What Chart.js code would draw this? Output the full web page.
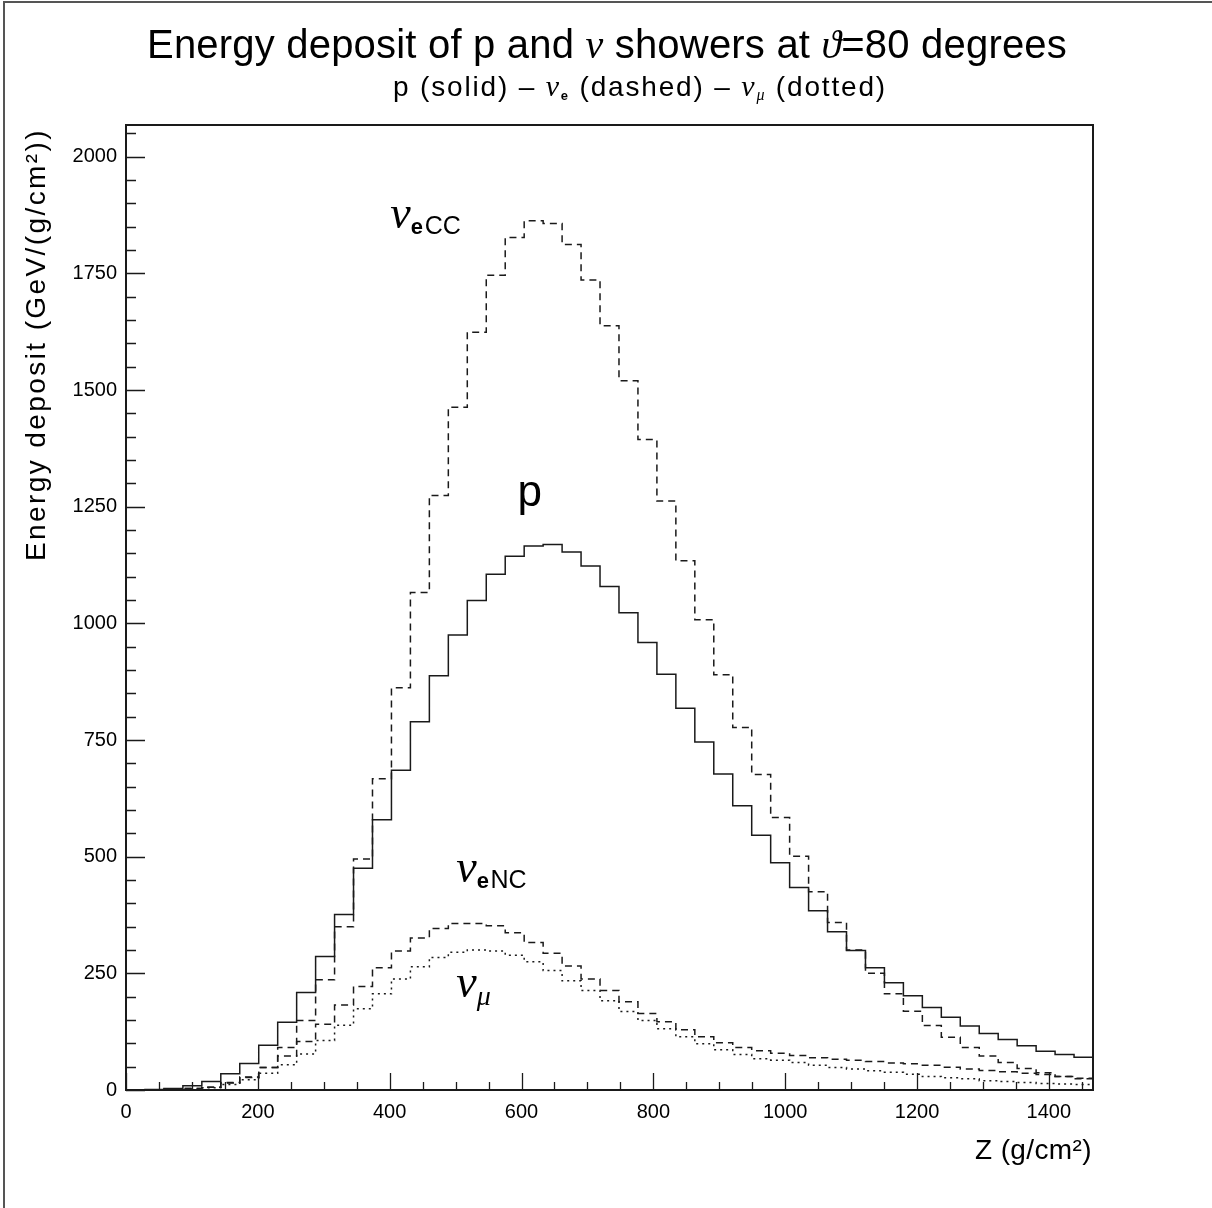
<!DOCTYPE html>
<html>
<head>
<meta charset="utf-8">
<script src="https://cdn.jsdelivr.net/npm/chart.js@4.4.1/dist/chart.umd.min.js"></script>
<style>
  html, body { margin: 0; padding: 0; background: #fff; }
  #c { display: block; }
</style>
</head>
<body>
<canvas id="c" width="1212" height="1208"></canvas>
<script>
// histogram binning along Z (g/cm2)
const nBins = 51;
const zMax = 1467;
const yMax = 2068;

// energy deposit per bin, GeV/(g/cm2)
const protonSolid = [0, 1, 3, 9, 18, 35, 57, 96, 145, 209, 286, 376, 475, 579, 685, 789, 888, 975, 1049, 1105,
  1144, 1166, 1169, 1153, 1123, 1079, 1023, 959, 891, 818, 746, 677, 609, 546, 487, 434, 384, 339, 299, 262,
  230, 202, 177, 156, 137, 121, 108, 95, 83, 76, 70];
const nueCC = [0, 0, 1, 3, 6, 16, 28, 48, 91, 149, 236, 350, 495, 667, 862, 1066, 1274, 1463, 1624, 1746,
  1827, 1863, 1857, 1812, 1736, 1638, 1520, 1394, 1262, 1134, 1008, 890, 777, 676, 584, 501, 425, 359, 300, 250,
  206, 169, 138, 113, 91, 73, 59, 46, 37, 29, 24];
const nueNC = [0, 0, 1, 3, 6, 15, 27, 48, 73, 104, 141, 182, 222, 262, 298, 326, 346, 357, 357, 352,
  337, 316, 293, 266, 238, 213, 189, 164, 146, 129, 114, 101, 91, 84, 79, 74, 69, 66, 64, 61,
  58, 56, 53, 49, 45, 42, 39, 36, 33, 29, 25];
const numu = [0, 0, 1, 2, 5, 12, 22, 36, 54, 77, 106, 139, 174, 206, 238, 264, 284, 295, 300, 298,
  289, 275, 256, 234, 213, 191, 168, 149, 131, 114, 99, 86, 76, 67, 64, 59, 53, 48, 45, 41,
  38, 34, 29, 26, 24, 20, 18, 16, 14, 13, 12];

// curve labels, anchored in data coordinates (Z, energy deposit)
const curveLabels = [
  { name: 'nueCC', x: 401, y: 1847 },
  { name: 'p',     x: 594, y: 1251 },
  { name: 'nueNC', x: 501, y: 446 },
  { name: 'numu',  x: 501, y: 199 }
];

const SANS = "'Liberation Sans', Arial, sans-serif";
const SERIF_IT = "italic 46px 'Liberation Serif', 'DejaVu Serif', serif";
Chart.defaults.font.family = SANS;
Chart.defaults.color = '#000';

const binWidth = zMax / nBins;

// turn bin contents into step points (left edge of every bin + last upper edge)
function histPoints(vals) {
  const pts = vals.map((v, i) => ({ x: i * binWidth, y: v }));
  pts.push({ x: nBins * binWidth, y: vals[vals.length - 1] });
  return pts;
}

function histSet(label, vals, dash) {
  return {
    label: label,
    data: histPoints(vals),
    stepped: true,
    borderColor: '#1a1a1a',
    borderWidth: 1.5,
    borderDash: dash,
    pointRadius: 0,
    fill: false
  };
}

// draw a run of text pieces with different fonts, optionally stretched to a target width
function drawRich(ctx, parts, x, y, align, targetW) {
  let base = 0, chars = 0;
  parts.forEach(p => {
    ctx.font = p.font;
    p.w = ctx.measureText(p.t).width;
    base += p.w;
    chars += p.t.length;
  });
  let sp = 0;
  if (targetW) sp = (targetW - base) / chars;
  const total = base + sp * chars;
  let cx = align === 'center' ? x - total / 2 : (align === 'right' ? x - total : x);
  ctx.textAlign = 'left';
  parts.forEach(p => {
    ctx.font = p.font;
    for (const ch of p.t) {
      ctx.fillText(ch, cx, y + (p.dy || 0));
      cx += ctx.measureText(ch).width + sp;
    }
  });
}

const decor = {
  id: 'decor',
  afterDraw(chart) {
    const { ctx, chartArea: a, scales: { x, y } } = chart;
    ctx.save();

    // outer pad border
    ctx.strokeStyle = '#555';
    ctx.lineWidth = 2;
    ctx.beginPath();
    ctx.moveTo(4, 1208);
    ctx.lineTo(4, 2);
    ctx.lineTo(1212, 2);
    ctx.stroke();

    // frame
    ctx.strokeStyle = '#1a1a1a';
    ctx.lineWidth = 2;
    ctx.strokeRect(a.left, a.top, a.right - a.left, a.bottom - a.top);

    // ticks pointing inside
    ctx.lineWidth = 1.3;
    ctx.beginPath();
    for (let v = 0; v <= zMax; v += 50) {
      const px = Math.round(x.getPixelForValue(v)) + 0.5;
      const len = v % 200 === 0 ? 17 : 8;
      ctx.moveTo(px, a.bottom);
      ctx.lineTo(px, a.bottom - len);
    }
    for (let v = 0; v <= yMax; v += 50) {
      const py = Math.round(y.getPixelForValue(v)) + 0.5;
      const len = v % 250 === 0 ? 19 : 10;
      ctx.moveTo(a.left, py);
      ctx.lineTo(a.left + len, py);
    }
    ctx.stroke();

    ctx.fillStyle = '#000';
    ctx.textBaseline = 'alphabetic';

    // title and subtitle
    const tf = '40px ' + SANS;
    const tg = "italic 40px 'Liberation Serif', serif";
    drawRich(ctx, [
      { t: 'Energy deposit of p and ', font: tf },
      { t: 'ν', font: tg },
      { t: ' showers at ', font: tf },
      { t: 'ϑ', font: tg },
      { t: '=80 degrees', font: tf }
    ], 607, 58, 'center', 920);

    const sf = '28px ' + SANS;
    const sg = "italic 30px 'Liberation Serif', serif";
    const ss = 'bold 13px ' + SANS;
    const sm = "italic 16px 'Liberation Serif', serif";
    drawRich(ctx, [
      { t: 'p (solid) – ', font: sf },
      { t: 'ν', font: sg },
      { t: 'e', font: ss, dy: 4 },
      { t: ' (dashed) – ', font: sf },
      { t: 'ν', font: sg },
      { t: 'μ', font: sm, dy: 4 },
      { t: ' (dotted)', font: sf }
    ], 640, 96, 'center', 494);

    // axis titles
    drawRich(ctx, [
      { t: 'Z (g/cm²)', font: '28px ' + SANS }
    ], 1092, 1159, 'right', 117);

    ctx.save();
    ctx.translate(45, 561);
    ctx.rotate(-Math.PI / 2);
    drawRich(ctx, [
      { t: 'Energy deposit (GeV/(g/cm²))', font: '28px ' + SANS }
    ], 0, 0, 'left', 433);
    ctx.restore();

    // curve labels
    curveLabels.forEach(l => {
      const px = x.getPixelForValue(l.x);
      const py = y.getPixelForValue(l.y);
      if (l.name === 'p') {
        drawRich(ctx, [{ t: 'p', font: '44px ' + SANS }], px, py, 'left');
      } else if (l.name === 'numu') {
        drawRich(ctx, [
          { t: 'ν', font: SERIF_IT },
          { t: 'μ', font: "italic 28px 'Liberation Serif', serif", dy: 8 }
        ], px, py, 'left');
      } else {
        drawRich(ctx, [
          { t: 'ν', font: SERIF_IT },
          { t: 'e', font: 'bold 22px ' + SANS, dy: 6 },
          { t: ' ', font: '6px ' + SANS },
          { t: l.name === 'nueCC' ? 'CC' : 'NC', font: '25px ' + SANS, dy: 6 }
        ], px, py, 'left');
      }
    });

    ctx.restore();
  }
};

new Chart(document.getElementById('c'), {
  type: 'line',
  data: {
    datasets: [
      histSet('p', protonSolid, []),
      histSet('nu_e CC', nueCC, [7, 5]),
      histSet('nu_e NC', nueNC, [7, 5]),
      histSet('nu_mu', numu, [2, 4])
    ]
  },
  options: {
    responsive: false,
    devicePixelRatio: 1,
    animation: false,
    layout: { padding: { left: 0, top: 125, right: 119, bottom: 0 } },
    plugins: {
      legend: { display: false },
      tooltip: { enabled: false }
    },
    scales: {
      x: {
        type: 'linear',
        min: 0,
        max: zMax,
        grid: { display: false, drawTicks: false },
        border: { display: false },
        ticks: {
          stepSize: 200, includeBounds: false, padding: 10, maxRotation: 0,
          font: { size: 20 }, callback: v => String(v)
        },
        afterFit(scale) { scale.height = 118; }
      },
      y: {
        min: 0,
        max: yMax,
        grid: { display: false, drawTicks: false },
        border: { display: false },
        ticks: {
          stepSize: 250, includeBounds: false, padding: 9,
          font: { size: 20 }, callback: v => String(v)
        },
        afterFit(scale) { scale.width = 126; }
      }
    }
  },
  plugins: [decor]
});
</script>
</body>
</html>
